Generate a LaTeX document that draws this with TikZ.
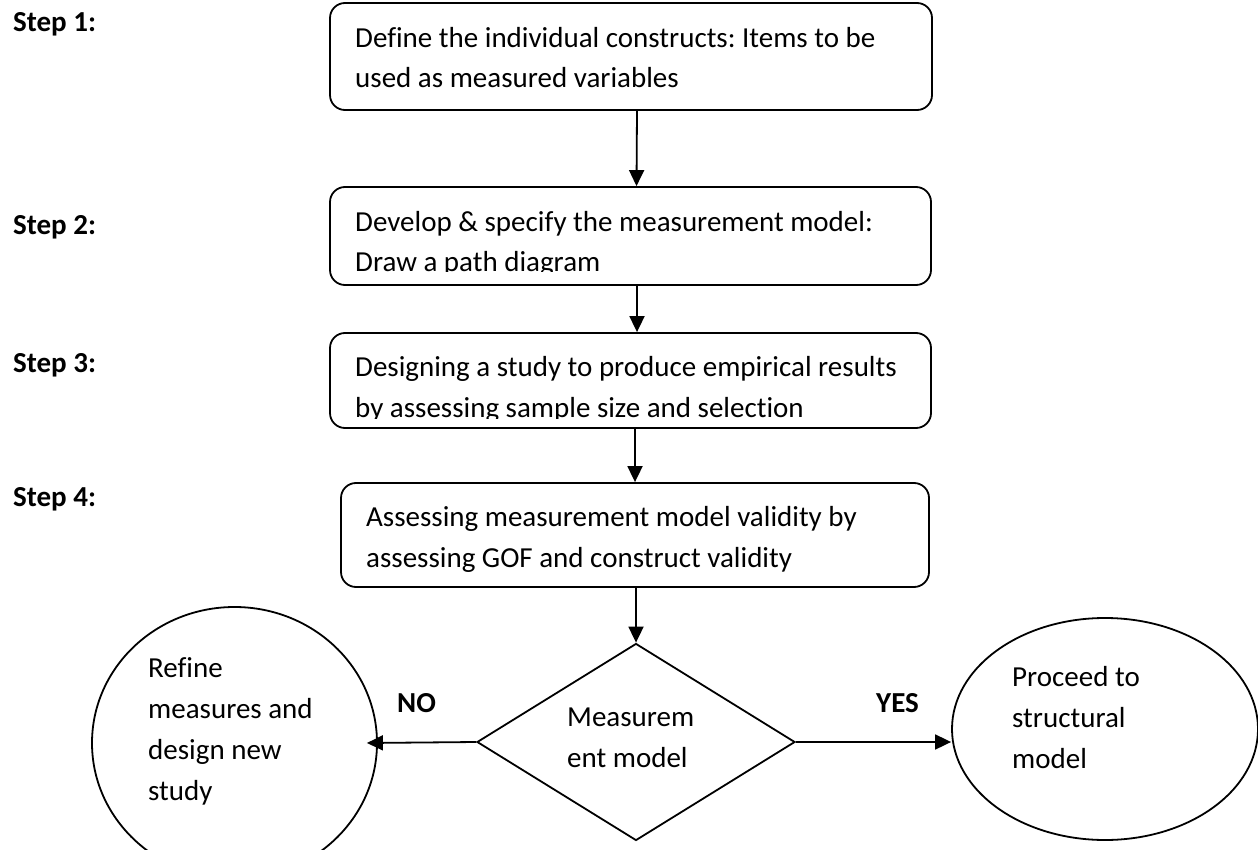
\documentclass[tikz,border=0pt]{standalone}
\usepackage{fontspec}
\setmainfont{Carlito}[Ligatures={TeX,NoCommon}]
\frenchspacing
\usetikzlibrary{shapes.geometric,arrows.meta}
\tikzset{
  proc/.style={draw, line width=1.8pt, rounded corners=15pt, inner sep=0pt},
  decision/.style={draw, diamond, line width=1.8pt, inner sep=0pt},
  terminal/.style={draw, ellipse, line width=1.8pt, inner sep=0pt},
  % multi-line labels are placed by the baseline of their last line
  txt/.style={inner sep=0pt, anchor=base west, align=left,
    font=\fontsize{29}{40.7}\selectfont},
  steplabel/.style={inner sep=0pt, anchor=base west,
    font=\fontsize{29}{34}\selectfont\bfseries},
  arr/.style={line width=1.8pt, -{Triangle[width=15pt,length=16pt]}}
}
\begin{document}
\begin{tikzpicture}[x=1pt,y=-1pt]
\useasboundingbox (0,0) rectangle (1258,850);

% step labels
\node[steplabel] (s1) at (13,32)  {Step 1:};
\node[steplabel] (s2) at (13,235) {Step 2:};
\node[steplabel] (s3) at (13,372) {Step 3:};
\node[steplabel] (s4) at (13,506) {Step 4:};

% process boxes
\node[proc, minimum width=602pt, minimum height=107pt] (b1) at (631,56.5) {};
\node[proc, minimum width=601pt, minimum height=98pt]  (b2) at (630.5,236) {};
\node[proc, minimum width=601pt, minimum height=95pt]  (b3) at (630.5,380.5) {};
\node[proc, minimum width=588pt, minimum height=104pt] (b4) at (635,535) {};

\node[txt] (t1) at (355,88) {Define the individual constructs: Items to be\\used as measured variables};
\begin{scope}
  \clip (332,189) rectangle (929,272);
  \node[txt] (t2) at (355,272) {Develop \& specify the measurement model:\\Draw a path diagram};
\end{scope}
\begin{scope}
  \clip (332,335) rectangle (929,418);
  \node[txt] (t3) at (355,417) {Designing a study to produce empirical results\\by assessing sample size and selection};
\end{scope}
\node[txt] (t4) at (366,567) {Assessing measurement model validity by\\assessing GOF and construct validity};

% decision
\node[decision, minimum width=318pt, minimum height=197pt] (d) at (636,742) {};
\node[txt] (td) at (567,767) {Measurem\\ent model};

% outcomes
\node[terminal, minimum width=285pt, minimum height=272pt] (refine) at (234.5,743) {};
\node[txt] (tr) at (148,800) {Refine\\measures and\\design new\\study};
\node[terminal, minimum width=306pt, minimum height=222pt] (proceed) at (1105,729) {};
\node[txt] (tp) at (1012,768) {Proceed to\\structural\\model};

\node[steplabel] (no) at (397,712) {NO};
\node[steplabel] (yes) at (876,712) {YES};

% connectors
\draw[arr] ([xshift=6pt]b1.south) -- ([xshift=6pt]b2.north);
\draw[arr] ([xshift=6.5pt]b2.south) -- ([xshift=6.5pt]b3.north);
\draw[arr] (b3.south -| b4.north) -- (b4.north);
\draw[arr] (b4.south -| d.north) -- (d.north);
\draw[arr] (d.west) -- ([xshift=-11pt]refine.east);
\draw[arr] (d.east) -- (d.east -| proceed.west);
\end{tikzpicture}
\end{document}
